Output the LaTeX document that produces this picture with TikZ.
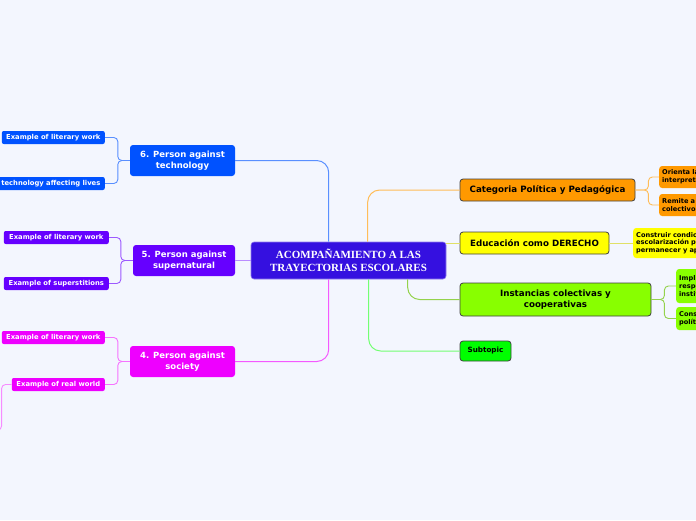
\documentclass[tikz,border=0pt]{standalone}
\usepackage{fontspec}
\setmainfont{DejaVu Sans}
\newfontfamily\rootfont{Liberation Serif}
\usetikzlibrary{positioning, calc}

\definecolor{bgpaper}{RGB}{243,246,254}
\definecolor{rootviolet}{RGB}{53,16,224}
\definecolor{techblue}{RGB}{0,82,255}
\definecolor{superpurple}{RGB}{102,0,255}
\definecolor{socmagenta}{RGB}{238,0,255}
\definecolor{catorange}{RGB}{255,153,0}
\definecolor{eduyellow}{RGB}{255,255,0}
\definecolor{instlime}{RGB}{136,255,0}
\definecolor{subgreen}{RGB}{0,255,0}

\begin{document}
\begin{tikzpicture}[
    x=1pt, y=-1pt,
    topic/.style={rounded corners=3pt, align=center, inner sep=0pt, text=white, font=\bfseries\fontsize{8.5}{10.5}\selectfont},
    rtopic/.style={topic, text=black, draw=black!75, line width=0.8pt, font=\bfseries\fontsize{8.7}{10.5}\selectfont},
    leaf/.style={rounded corners=2pt, inner sep=0pt, minimum height=13pt, text=white, font=\bfseries\fontsize{6.8}{8}\selectfont},
    rleaf/.style={rounded corners=3pt, inner xsep=3pt, inner ysep=0pt, anchor=west, align=left, text width=120pt, text=black, font=\bfseries\fontsize{6.6}{7.8}\selectfont},
    link/.style={line width=1pt, rounded corners=12pt},
    twig/.style={line width=0.9pt, rounded corners=4pt}
]
\fill[bgpaper] (0,0) rectangle (696,520);
\useasboundingbox (0,0) rectangle (696,520);
\clip (0,0) rectangle (696,520);

% root
\node[topic, fill=rootviolet, draw=rootviolet!55!white, line width=0.6pt, minimum width=195pt, minimum height=37pt,
      font=\rootfont\bfseries\fontsize{11}{12.5}\selectfont] (root) at (348.5,260.5)
    {ACOMPAÑAMIENTO A LAS\\TRAYECTORIAS ESCOLARES};

% left side
\node[topic, fill=techblue, minimum width=105pt, minimum height=31pt] (tech) at (182.5,160.5) {6. Person against\\technology};
\node[leaf, fill=techblue, anchor=east, minimum width=103pt] (techA) at (105,137.5) {Example of literary work};
\node[leaf, fill=techblue, anchor=east, minimum width=108pt] (techB) at (105,183.5) {technology affecting lives};

\node[topic, fill=superpurple, minimum width=102pt, minimum height=31pt] (super) at (184,260.5) {5. Person against\\supernatural};
\node[leaf, fill=superpurple, anchor=east, minimum width=105pt] (superA) at (109,237.5) {Example of literary work};
\node[leaf, fill=superpurple, anchor=east, minimum width=105pt] (superB) at (109,283.5) {Example of superstitions};

\node[topic, fill=socmagenta, minimum width=105pt, minimum height=31pt] (soc) at (182.5,361.5) {4. Person against\\society};
\node[leaf, fill=socmagenta, anchor=east, minimum width=103pt] (socA) at (105,337.5) {Example of literary work};
\node[leaf, fill=socmagenta, anchor=east, minimum width=93pt] (socB) at (105,384.5) {Example of real world};
\coordinate (socC) at (-20,430);

% right side
\node[rtopic, fill=catorange, minimum width=175pt, minimum height=22pt] (cat) at (547.5,190) {Categoria Política y Pedagógica};
\node[rleaf, fill=catorange, minimum height=22pt] (catA) at (659,177) {Orienta la\\interpretación};
\node[rleaf, fill=catorange, minimum height=22pt] (catB) at (659,205) {Remite a lo\\colectivo};

\node[rtopic, fill=eduyellow, minimum width=149pt, minimum height=22pt] (edu) at (534.5,243) {Educación como DERECHO};
\node[rleaf, fill=eduyellow, minimum height=30pt] (eduA) at (633,243) {Construir condiciones de\\escolarización para\\permanecer y aprender};

\node[rtopic, fill=instlime, minimum width=191pt, minimum height=33pt] (inst) at (555.5,299.5) {Instancias colectivas y\\cooperativas};
\node[rleaf, fill=instlime, minimum height=34pt] (instA) at (676,286) {Implica\\responsabilidad\\institucional};
\node[rleaf, fill=instlime, minimum height=23pt] (instB) at (676,318.5) {Construir\\políticas};

\node[rtopic, fill=subgreen, minimum width=51pt, minimum height=20pt, font=\bfseries\fontsize{7.2}{8.5}\selectfont] (sub) at (485.5,351) {Subtopic};

% connectors
\draw[link, techblue!65!white] (tech.east) -| ($(root.north west)+(78,0)$);
\draw[link, superpurple!45!white] (super.east) -- (root.west);
\draw[link, socmagenta!65!white] (soc.east) -| ($(root.south west)+(78,0)$);
\draw[link, catorange!65!white] ($(root.north west)+(117,0)$) |- (cat.west);
\draw[link, eduyellow!80!black!60!white] (edu.west -| root.east) -- (edu.west);
\draw[link, instlime!75!black!70!white] ($(root.south west)+(157,0)$) |- (inst.west);
\draw[link, subgreen!55!white] ($(root.south west)+(118,0)$) |- (sub.west);

\draw[twig, techblue!65!white] (tech.west) -- ++(-12,0) |- (techA.east);
\draw[twig, techblue!65!white] (tech.west) -- ++(-12,0) |- (techB.east);
\draw[twig, superpurple!65!white] (super.west) -- ++(-12,0) |- (superA.east);
\draw[twig, superpurple!65!white] (super.west) -- ++(-12,0) |- (superB.east);
\draw[twig, socmagenta!55!white] (soc.west) -- ++(-12,0) |- (socA.east);
\draw[twig, socmagenta!55!white] (soc.west) -- ++(-12,0) |- (socB.east);
\draw[twig, socmagenta!45!white] (socB.west) -- ++(-10,0) |- (socC);
\draw[twig, catorange!65!white] (cat.east) -- ++(13,0) |- (catA.west);
\draw[twig, catorange!65!white] (cat.east) -- ++(13,0) |- (catB.west);
\draw[twig, eduyellow!80!black!60!white] (edu.east) -- (eduA.west);
\draw[twig, instlime!75!black!70!white] (inst.east) -- ++(13,0) |- (instA.west);
\draw[twig, instlime!75!black!70!white] (inst.east) -- ++(13,0) |- (instB.west);
\end{tikzpicture}
\end{document}
